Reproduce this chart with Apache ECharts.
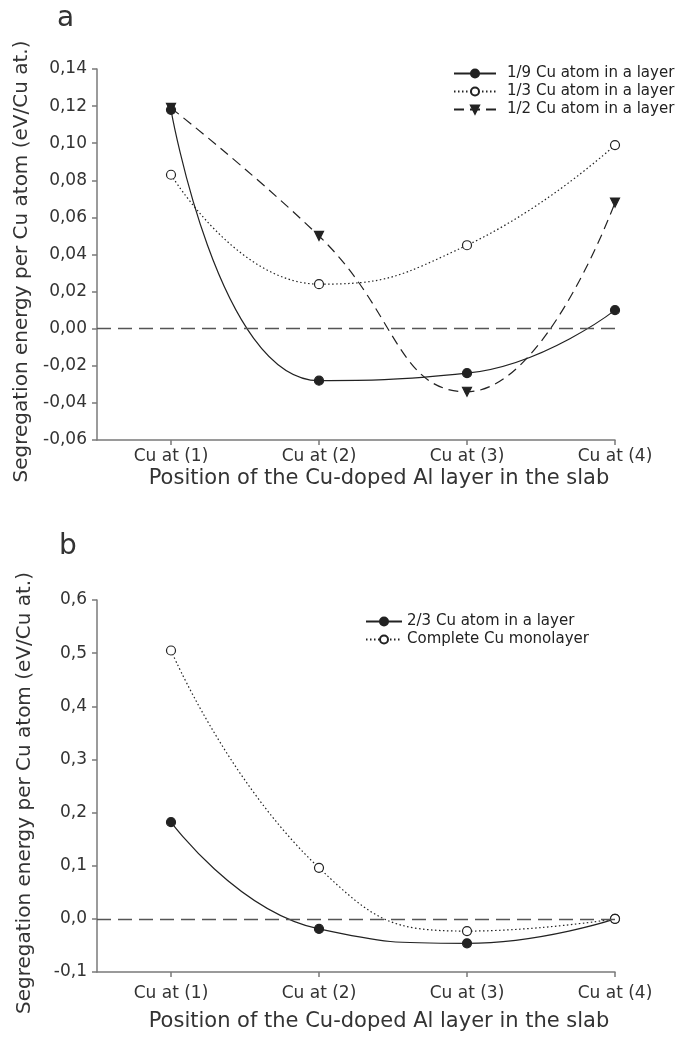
<!DOCTYPE html>
<html>
<head>
<meta charset="utf-8">
<script src="https://cdn.jsdelivr.net/npm/echarts@6/dist/echarts.min.js"></script>
<style>
html, body { margin: 0; padding: 0; background: #fff; }
#chart { width: 694px; height: 1046px; }
</style>
</head>
<body>
<div id="chart"></div>
<script>
// 横坐标位置和标签
const positions = [1, 2, 3, 4];
const categories = ['Cu at (1)', 'Cu at (2)', 'Cu at (3)', 'Cu at (4)'];

// 图 a
const ninth = [0.118, -0.028, -0.024, 0.010];   // 1/9 Cu atom in a layer
const third = [0.083, 0.024, 0.045, 0.099];     // 1/3 Cu atom in a layer
const half = [0.119, 0.050, -0.034, 0.068];     // 1/2 Cu atom in a layer

// 图 b
const twoThirds = [0.182, -0.019, -0.046, 0.000];  // 2/3 Cu atom in a layer
const monolayer = [0.505, 0.096, -0.023, 0.000];   // Complete Cu monolayer

const font = 'DejaVu Sans, sans-serif';
const ink = '#222';
const axisGray = '#7a7a7a';

const toPairs = vals => positions.map((p, i) => [p, vals[i]]);

function xAxisFor(gridIndex, labelMargin, nameGap) {
    return {
        type: 'value',
        gridIndex: gridIndex,
        min: 0.5,
        max: 4,
        name: 'Position of the Cu-doped Al layer in the slab',
        nameLocation: 'middle',
        nameGap: nameGap,
        nameTextStyle: { fontFamily: font, fontSize: 21, color: '#333', padding: [0, 0, 0, 46] },
        axisLine: { onZero: false, lineStyle: { color: axisGray, width: 1.5 } },
        axisTick: { show: true, customValues: positions, length: 5, lineStyle: { color: axisGray, width: 1.5 } },
        axisLabel: {
            customValues: positions,
            margin: labelMargin,
            fontFamily: font, fontSize: 17, color: '#333',
            formatter: v => categories[positions.indexOf(Math.round(v))] || ''
        },
        splitLine: { show: false }
    };
}

function yAxisFor(gridIndex, min, max, interval, digits, nameGap) {
    return {
        type: 'value',
        gridIndex: gridIndex,
        min: min,
        max: max,
        interval: interval,
        name: 'Segregation energy per Cu atom (eV/Cu at.)',
        nameLocation: 'middle',
        nameGap: nameGap,
        nameTextStyle: { fontFamily: font, fontSize: 20, color: '#333', padding: [0, 14, 0, 0] },
        axisLine: { show: true, onZero: false, lineStyle: { color: axisGray, width: 1.5 } },
        axisTick: { show: true, length: 5, lineStyle: { color: axisGray, width: 1.5 } },
        axisLabel: {
            margin: 10,
            fontFamily: font, fontSize: 17, color: '#333',
            formatter: v => {
                let s = Number(v).toFixed(digits);
                if (Math.abs(Number(s)) === 0) s = (0).toFixed(digits);
                return s.replace('.', ',');
            }
        },
        splitLine: { show: false }
    };
}

// 零线
const zeroLine = {
    silent: true,
    symbol: 'none',
    label: { show: false },
    lineStyle: { color: '#555', width: 1.3, type: [14, 7] },
    data: [{ yAxis: 0 }]
};

function lineSeries(name, vals, idx, dash, symbol, filled, extra) {
    return Object.assign({
        name: name,
        type: 'line',
        xAxisIndex: idx,
        yAxisIndex: idx,
        data: toPairs(vals),
        smooth: 0.5,
        symbol: symbol,
        symbolSize: 9,
        lineStyle: { color: ink, width: 1.2, type: dash },
        itemStyle: { color: filled ? ink : '#fff', borderColor: ink, borderWidth: 1.2 },
        z: 3
    }, extra || {});
}

const legendText = { fontFamily: font, fontSize: 15, color: '#222' };

const chart = echarts.init(document.getElementById('chart'));
chart.setOption({
    backgroundColor: '#fff',
    animation: false,
    title: [
        { text: 'a', left: 52, top: 0, textStyle: { fontFamily: font, fontSize: 28, fontWeight: 'normal', color: '#333' } },
        { text: 'b', left: 54, top: 528, textStyle: { fontFamily: font, fontSize: 28, fontWeight: 'normal', color: '#333' } }
    ],
    legend: [
        {
            data: ['1/9 Cu atom in a layer', '1/3 Cu atom in a layer', '1/2 Cu atom in a layer'],
            orient: 'vertical', left: 453, top: 66, padding: 0,
            itemWidth: 42, itemHeight: 10, itemGap: 3,
            textStyle: Object.assign({ padding: [0, 0, 0, 6] }, legendText)
        },
        {
            data: ['2/3 Cu atom in a layer', 'Complete Cu monolayer'],
            orient: 'vertical', left: 365, top: 614, padding: 0,
            itemWidth: 36, itemHeight: 10, itemGap: 3,
            textStyle: legendText
        }
    ],
    grid: [
        { left: 97, right: 79, top: 69, height: 371 },
        { left: 97, right: 79, top: 600, height: 372 }
    ],
    xAxis: [xAxisFor(0, 8, 28), xAxisFor(1, 13, 39)],
    yAxis: [yAxisFor(0, -0.06, 0.14, 0.02, 2, 60), yAxisFor(1, -0.1, 0.6, 0.1, 1, 62)],
    series: [
        lineSeries('1/9 Cu atom in a layer', ninth, 0, 'solid', 'circle', true, { markLine: zeroLine }),
        lineSeries('1/3 Cu atom in a layer', third, 0, [1.5, 2.5], 'circle', false),
        lineSeries('1/2 Cu atom in a layer', half, 0, [10, 6], 'triangle', true, { symbolRotate: 180 }),
        lineSeries('2/3 Cu atom in a layer', twoThirds, 1, 'solid', 'circle', true, { markLine: zeroLine }),
        lineSeries('Complete Cu monolayer', monolayer, 1, [1.5, 2.5], 'circle', false)
    ]
});
</script>
</body>
</html>
